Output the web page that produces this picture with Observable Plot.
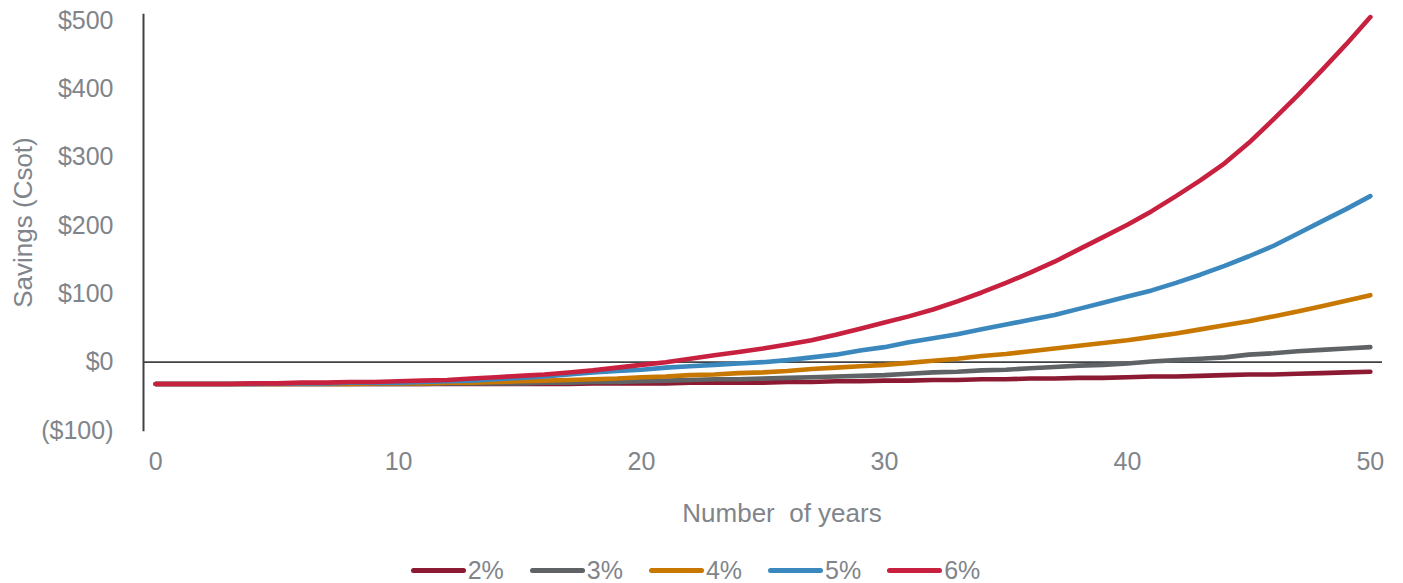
<!DOCTYPE html>
<html>
<head>
<meta charset="utf-8">
<script src="https://cdn.jsdelivr.net/npm/d3@7"></script>
<script src="https://cdn.jsdelivr.net/npm/@observablehq/plot@0.6"></script>
<style>
  html, body { margin: 0; padding: 0; background: #fff; }
  body { width: 1403px; height: 583px; overflow: hidden; font-family: "Liberation Sans", Arial, sans-serif; }
  #legend { display: flex; justify-content: center; align-items: center; height: 24px; margin-top: 10px; padding-right: 12px; }
  .item { display: flex; align-items: center; margin: 0 13px; height: 24px; }
  .sw { width: 55px; height: 5px; border-radius: 3px; margin-right: 2px; }
  .lb { font-size: 25px; line-height: 22px; color: #7f858a; }
</style>
</head>
<body>
<div id="chart"></div>
<div id="legend"></div>
<script>
const years = d3.range(0, 51);
const seriesNames = ["2%", "3%", "4%", "5%", "6%"];
const seriesColors = ["#8c1a33", "#5f6366", "#c87800", "#3b88bf", "#c8203f"];

const s2 = [-32,-32,-32,-32,-32,-32,-32,-32,-32,-32,-32,-32,-32,-32,-32,-32,-32,-32,-31,-31,-31,-31,-30,-30,-30,-30,-29,-29,-28,-28,-27,-27,-26,-26,-25,-25,-24,-24,-23,-23,-22,-21,-21,-20,-19,-18,-18,-17,-16,-15,-14];
const s3 = [-32,-32,-32,-32,-32,-32,-32,-32,-32,-32,-32,-32,-31,-31,-31,-31,-30,-30,-29,-29,-28,-27,-26,-25,-25,-24,-23,-22,-21,-20,-19,-17,-15,-14,-12,-11,-9,-7,-5,-4,-2,1,3,5,7,11,13,16,18,20,22];
const s4 = [-32,-32,-32,-32,-32,-32,-32,-32,-32,-31,-31,-31,-30,-30,-29,-28,-27,-26,-25,-24,-22,-21,-19,-18,-16,-15,-13,-10,-8,-6,-4,-1,2,5,9,12,16,20,24,28,32,37,42,48,54,60,67,74,82,90,98];
const s5 = [-32,-32,-32,-32,-32,-31,-31,-31,-30,-30,-30,-29,-28,-27,-25,-23,-21,-18,-15,-13,-11,-8,-6,-4,-2,0,3,7,11,17,22,29,35,41,48,55,62,69,78,87,96,105,116,128,141,155,170,188,206,224,243];
const s6 = [-32,-32,-32,-32,-31,-31,-30,-30,-29,-29,-28,-27,-26,-24,-22,-20,-18,-15,-12,-8,-4,0,5,10,15,20,26,32,40,49,58,67,77,89,102,116,131,147,165,183,201,221,243,266,291,321,355,390,427,465,505];
const allSeries = [s2, s3, s4, s5, s6];

const yTicks = [-100, 0, 100, 200, 300, 400, 500];
const xTicks = [0, 10, 20, 30, 40, 50];

const data = [];
allSeries.forEach((vals, i) => {
  vals.forEach((v, j) => data.push({year: years[j], value: v, series: seriesNames[i]}));
});

const fmt = v => v < 0 ? `($${Math.abs(v)})` : `$${v}`;
const textColor = "#7f858a";

const chart = Plot.plot({
  width: 1403,
  height: 548,
  marginLeft: 143,
  marginRight: 21,
  marginTop: 20,
  marginBottom: 118,
  style: {fontFamily: "'Liberation Sans', Arial, sans-serif", background: "#fff", overflow: "visible"},
  x: {domain: [-0.5, 50.5], axis: null},
  y: {domain: [-100, 500], axis: null},
  color: {domain: seriesNames, range: seriesColors},
  marks: [
    Plot.axisY(yTicks, {anchor: "left", tickSize: 0, tickPadding: 30, tickFormat: fmt, fontSize: 25, fill: textColor, label: null}),
    Plot.axisX(xTicks, {anchor: "bottom", tickSize: 0, tickPadding: 22, fontSize: 25, fill: textColor, label: null}),
    Plot.text(["Savings (Csot)"], {frameAnchor: "left", dx: -120, dy: -3, rotate: -90, fontSize: 26, fill: textColor, textAnchor: "middle"}),
    Plot.text(["Number\u00a0 of years"], {frameAnchor: "bottom", dx: 19, dy: 91, fontSize: 26, fill: textColor, textAnchor: "middle"}),
    Plot.ruleX([-0.5], {y1: -102, y2: 509, stroke: "#3f4244", strokeWidth: 2}),
    Plot.ruleY([0], {stroke: "#3f4244", strokeWidth: 1.6}),
    Plot.line(data, {x: "year", y: "value", z: "series", stroke: "series", strokeWidth: 4.6, strokeLinecap: "round", strokeLinejoin: "round"})
  ]
});
document.getElementById("chart").appendChild(chart);

const legend = document.getElementById("legend");
seriesNames.forEach((name, i) => {
  const item = document.createElement("div");
  item.className = "item";
  const sw = document.createElement("span");
  sw.className = "sw";
  sw.style.background = seriesColors[i];
  const lb = document.createElement("span");
  lb.className = "lb";
  lb.textContent = name;
  item.appendChild(sw);
  item.appendChild(lb);
  legend.appendChild(item);
});
</script>
</body>
</html>
